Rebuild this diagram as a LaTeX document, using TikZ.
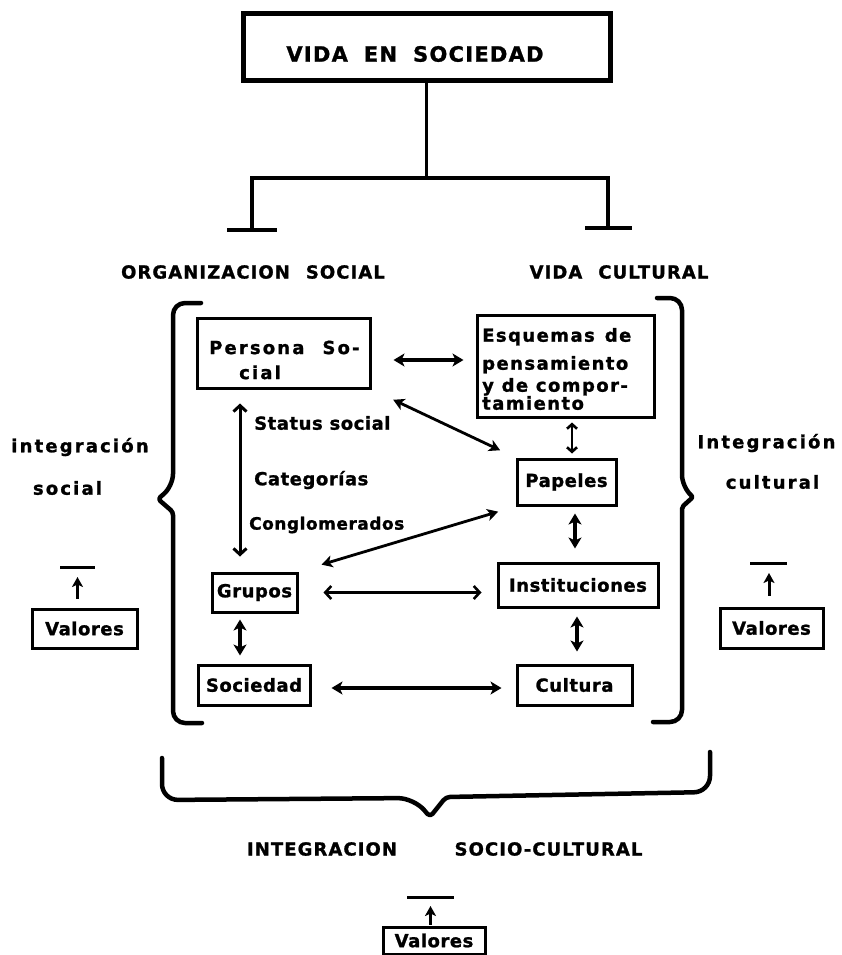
\documentclass[tikz,border=0pt]{standalone}
\usepackage{fontspec}
\setmainfont{DejaVu Sans}
\newfontfamily\fa{DejaVu Sans}[LetterSpace=3,BoldFeatures={FakeBold=1.2}]
\newfontfamily\fc{DejaVu Sans}[LetterSpace=6,BoldFeatures={FakeBold=1.2}]
\newfontfamily\fd{DejaVu Sans}[LetterSpace=8,BoldFeatures={FakeBold=1.2}]
\newfontfamily\fb{DejaVu Sans}[LetterSpace=12,BoldFeatures={FakeBold=1.2}]
\usetikzlibrary{arrows.meta}
\tikzset{
  box/.style={draw, line width=3pt, inner sep=0pt, font=\fa\bfseries\fontsize{18}{20}\selectfont},
  txt/.style={inner sep=0pt, font=\fa\bfseries\fontsize{18}{20}\selectfont},
  side/.style={inner sep=0pt, font=\fb\bfseries\fontsize{18}{20}\selectfont},
  head/.style={inner sep=0pt, font=\fc\bfseries\fontsize{18}{20}\selectfont},
  brace/.style={line width=4.5pt, line cap=round, line join=round},
  tree/.style={line width=3.5pt},
  big/.style={line width=3.4pt, {Stealth[length=11pt,width=13pt,inset=3pt]}-{Stealth[length=11pt,width=13pt,inset=3pt]}},
  diag/.style={line width=2.8pt, {Stealth[length=11pt,width=12pt,inset=3pt]}-{Stealth[length=11pt,width=12pt,inset=3pt]}},
  barb/.style={line width=3pt, {Straight Barb[length=6pt,width=13pt,line width=3pt]}-{Straight Barb[length=6pt,width=13pt,line width=3pt]}},
  thinbarb/.style={line width=2.2pt, {Straight Barb[length=6pt,width=13pt,line width=2.6pt]}-{Straight Barb[length=6pt,width=13pt,line width=2.6pt]}},
  small/.style={line width=2.6pt, {Straight Barb[length=4.5pt,width=10pt,line width=2.6pt]}-{Straight Barb[length=4.5pt,width=10pt,line width=2.6pt]}},
  up/.style={line width=3pt, -{Stealth[length=10pt,width=11pt,inset=2.5pt]}},
  bar/.style={line width=3pt},
}
\begin{document}
\begin{tikzpicture}[x=1pt,y=-1pt]
\fill[white] (0,0) rectangle (841,955);
\useasboundingbox (0,0) rectangle (841,955);

% title
\node[draw, line width=5pt, minimum width=367pt, minimum height=67pt, inner sep=0pt] (top) at (426.5,47.5) {};
\node[inner sep=0pt, font=\fc\bfseries\fontsize{21}{24}\selectfont] (title) at (415,54) {VIDA\hspace{16pt}EN\hspace{16pt}SOCIEDAD};

% tree
\coordinate (jn) at (426.5,178);
\coordinate (lf) at (252,230);
\coordinate (rf) at (608,228);
\draw[tree] (top.south) -- (jn);
\draw[tree] (lf) |- (jn) -| (rf);
\draw[tree] ([xshift=-25pt]lf) -- ([xshift=25pt]lf);
\draw[tree] ([xshift=-23pt]rf) -- ([xshift=24pt]rf);

% headings
\node[head] (org) at (253,272) {ORGANIZACION\hspace{16pt}SOCIAL};
\node[head] (vc) at (619,272) {VIDA\hspace{16pt}CULTURAL};

% braces
\draw[brace, rounded corners=12pt] (201,303) -- (173,303) -- (173,486) [rounded corners=3pt] -- (158,499) -- (173,512) [rounded corners=12pt] -- (173,723) -- (202,723);
\draw[brace, rounded corners=12pt] (657,298) -- (682,298) -- (682,487) [rounded corners=2pt] -- (693,497) -- (682,507) [rounded corners=12pt] -- (682,722) -- (653,722);
\draw[brace, rounded corners=16pt] (162,758) -- (162,800) -- (414,798) [rounded corners=4pt] -- (430,817) -- (446,797) [rounded corners=16pt] -- (710,792) -- (710,752);

% boxes
\node[box, minimum width=173pt, minimum height=70pt] (persona) at (283.5,353) {};
\node[txt, anchor=west, align=left, font=\fb\bfseries\fontsize{18}{20}\selectfont] (personat) at (209,360) {Persona\hspace{18pt}So-\\[5pt]\hspace*{30pt}cial};
\node[box, minimum width=177pt, minimum height=102pt] (esquemas) at (565.5,366) {};
\node[txt, anchor=west, align=left, font=\fd\bfseries\fontsize{18}{20}\selectfont] (esquemast) at (482,369) {Esquemas\hspace{10pt}de\\[8pt]pensamiento\\[2pt]y de compor-\\[-2pt]tamiento};
\node[box, minimum width=99pt, minimum height=46pt] (papeles) at (566.5,482) {Papeles};
\node[box, minimum width=160pt, minimum height=44pt] (instit) at (578,585) {Instituciones};
\node[box, minimum width=85pt, minimum height=39pt] (grupos) at (254.5,592.5) {Grupos};
\node[box, minimum width=112pt, minimum height=40pt] (sociedad) at (254,685) {Sociedad};
\node[box, minimum width=115pt, minimum height=40pt] (cultura) at (574.5,685) {Cultura};

% labels
\node[txt, anchor=west] (status) at (254,423) {Status social};
\node[txt, anchor=west] (categ) at (254,480) {Categorías};
\node[txt, anchor=west, font=\fa\bfseries\fontsize{17}{19}\selectfont] (conglo) at (249,525) {Conglomerados};

% arrows
\draw[big, shorten <=22pt, shorten >=12pt] ([yshift=-7pt]persona.east) -- ([yshift=6pt]esquemas.west);
\draw[diag, shorten <=24pt, shorten >=17pt] (persona.south east) -- (papeles.north west);
\draw[barb, shorten <=14pt, shorten >=15pt] ([xshift=-43.5pt]persona.south) -- ([xshift=-14.5pt]grupos.north);
\draw[small, shorten <=4pt, shorten >=4pt] ([xshift=6.5pt]esquemas.south) -- ([xshift=5.5pt]papeles.north);
\draw[big, shorten <=7pt, shorten >=13pt] ([xshift=8.5pt]papeles.south) -- ([xshift=-3pt]instit.north);
\draw[diag, shorten <=24pt, shorten >=18pt] (grupos.north east) -- (papeles.south west);
\draw[thinbarb, shorten <=25pt, shorten >=15pt] (grupos.east) -- ([yshift=-7.5pt]instit.west);
\draw[big, shorten <=6pt, shorten >=8pt] ([xshift=-14.5pt]grupos.south) -- ([xshift=-14pt]sociedad.north);
\draw[big, shorten <=8pt, shorten >=12pt] ([xshift=-1pt]instit.south) -- ([xshift=2.5pt]cultura.north);
\draw[big, shorten <=20pt, shorten >=14pt] ([yshift=-3pt]sociedad.east) -- ([yshift=-3pt]cultura.west);

% side labels
\node[side] (intsoc) at (80,447) {integración};
\node[side] (soc) at (67.5,488) {social};
\node[side] (intcul) at (766.5,443) {Integración};
\node[side] (cul) at (772.5,482) {cultural};

% valores
\node[box, minimum width=105pt, minimum height=39pt] (valL) at (84.5,628.5) {Valores};
\coordinate (barL) at (77.5,567);
\draw[bar] ([xshift=-17.5pt]barL) -- ([xshift=17.5pt]barL);
\draw[up, shorten <=9pt, shorten >=10pt] (valL.north -| barL) -- (barL);

\node[box, minimum width=103pt, minimum height=40pt] (valR) at (771.5,628) {Valores};
\coordinate (barR) at (769,563);
\draw[bar] ([xshift=-19pt]barR) -- ([xshift=18pt]barR);
\draw[up, shorten <=11pt, shorten >=10pt] (valR.north -| barR) -- (barR);

% bottom
\node[head] (intg) at (322,849) {INTEGRACION};
\node[head] (socul) at (548.5,849) {SOCIO-CULTURAL};
\node[box, minimum width=102pt, minimum height=27pt] (valB) at (434,940.5) {Valores};
\coordinate (barB) at (430.5,897);
\draw[bar] ([xshift=-23.5pt]barB) -- ([xshift=23.5pt]barB);
\draw[up, shorten <=1pt, shorten >=9pt] (valB.north -| barB) -- (barB);
\end{tikzpicture}
\end{document}
